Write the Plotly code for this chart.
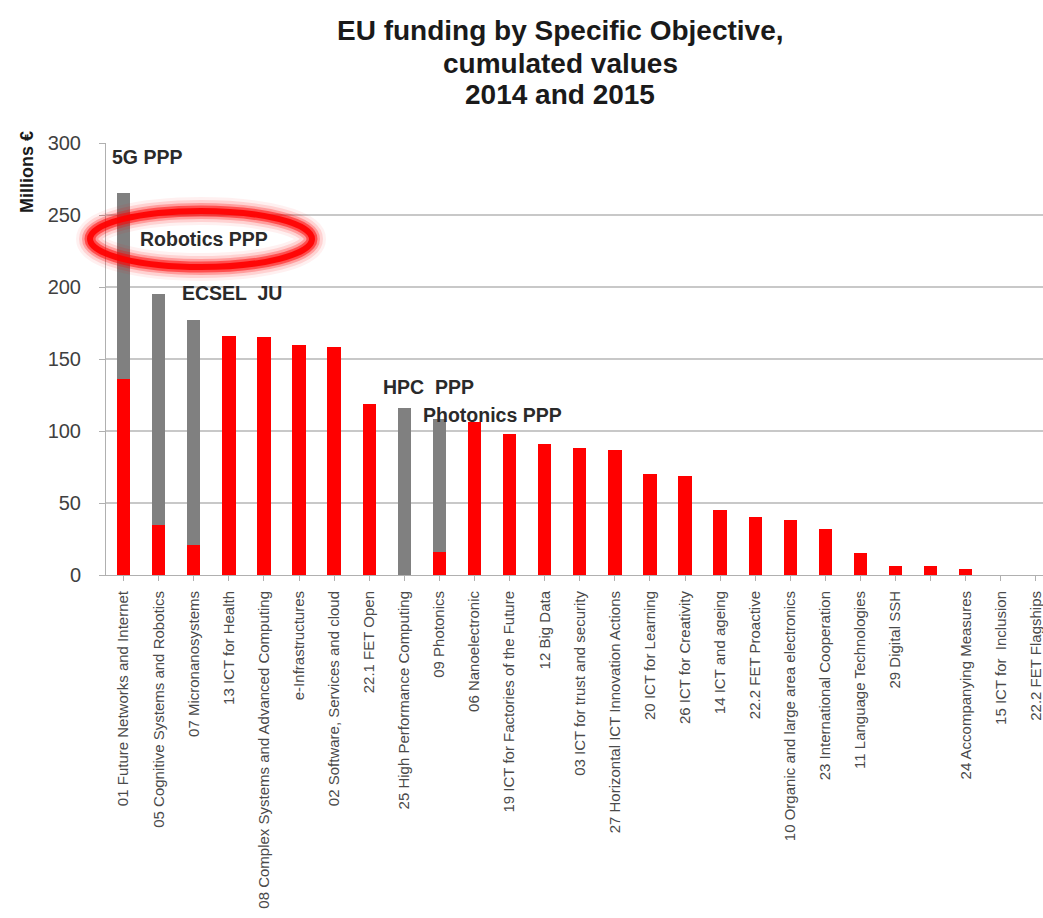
import plotly.graph_objects as go

categories = [
    "01 Future Networks and Internet",
    "05 Cognitive Systems and Robotics",
    "07 Micronanosystems",
    "13 ICT for Health",
    "08 Complex Systems and Advanced Computing",
    "e-Infrastructures",
    "02 Software, Services and cloud",
    "22.1 FET Open",
    "25 High Performance Computing",
    "09 Photonics",
    "06 Nanoelectronic",
    "19 ICT for Factories of the Future",
    "12 Big Data",
    "03 ICT for trust and security",
    "27 Horizontal ICT Innovation Actions",
    "20 ICT for Learning",
    "26 ICT for Creativity",
    "14 ICT and ageing",
    "22.2 FET Proactive",
    "10 Organic and large area electronics",
    "23 International Cooperation",
    "11 Language Technologies",
    "29 Digital SSH",
    " ",
    "24 Accompanying Measures",
    "15 ICT for  Inclusion",
    "22.2 FET Flagships",
]

# Red part (bottom of each bar), Millions €
red_values = [136, 35, 21, 166, 165, 160, 158, 119, 0, 16, 106, 98, 91, 88, 87,
              70, 69, 45, 40, 38, 32, 15, 6, 6, 4, 0, 0]
# Grey part (PPP / JU share, stacked on top)
grey_values = [129, 160, 156, 0, 0, 0, 0, 0, 116, 92, 0, 0, 0, 0, 0,
               0, 0, 0, 0, 0, 0, 0, 0, 0, 0, 0, 0]

y_ticks = [0, 50, 100, 150, 200, 250, 300]

title_lines = ["EU funding by Specific Objective,", "cumulated values", "2014 and 2015"]

# Labels placed over the bars: (text, category position, y value)
labels = [
    ("5G PPP", -0.4, 290),
    ("Robotics PPP", 0.4, 233),
    ("ECSEL  JU", 1.6, 196),
    ("HPC  PPP", 7.35, 130.5),
    ("Photonics PPP", 8.49, 111),
]

x_idx = list(range(len(categories)))

fig = go.Figure()
fig.add_trace(go.Bar(x=x_idx, y=red_values, marker=dict(color="#FF0000", line=dict(width=0)),
                     name="EU funding", showlegend=False))
fig.add_trace(go.Bar(x=x_idx, y=grey_values, marker=dict(color="#808080", line=dict(width=0)),
                     name="PPP / JU", showlegend=False))

fig.update_layout(
    barmode="stack",
    bargap=0.62,
    width=1043,
    height=918,
    margin=dict(l=106, r=0, t=143, b=343),
    paper_bgcolor="white",
    plot_bgcolor="white",
    font=dict(family="Liberation Sans, Arial, sans-serif", color="#333333"),
)

# Title lines (placed individually to match the tight line spacing)
for line, yc in zip(title_lines, [31, 63, 95]):
    fig.add_annotation(
        text="<b>" + line + "</b>", xref="paper", yref="paper",
        x=(560 - 106) / 937, y=(575 - yc) / 432,
        xanchor="center", yanchor="middle", showarrow=False,
        font=dict(size=28, color="#1a1a1a"),
    )

fig.update_xaxes(
    tickmode="array",
    tickvals=x_idx,
    ticktext=categories,
    tickangle=-90,
    range=[-0.5, 26.2],
    tickfont=dict(size=15, color="#4a4a4a"),
    ticks="outside",
    ticklen=5,
    tickcolor="#b0b0b0",
    ticklabelstandoff=4,
    ticklabeloverflow="allow",
    showline=True,
    linecolor="#b0b0b0",
    linewidth=1,
    showgrid=False,
    zeroline=False,
)

fig.update_yaxes(
    range=[0, 300],
    tickmode="array",
    tickvals=y_ticks,
    ticktext=[str(v) for v in y_ticks],
    tickfont=dict(size=20, color="#404040"),
    ticks="outside",
    ticklen=6,
    tickcolor="#b0b0b0",
    ticklabelstandoff=14,
    showline=True,
    linecolor="#b0b0b0",
    linewidth=1,
    showgrid=True,
    gridcolor="#c8c8c8",
    gridwidth=1.5,
    zeroline=False,
)

# Y axis title
fig.add_annotation(
    text="<b>Millions €</b>", textangle=-90,
    xref="paper", yref="paper", x=(27 - 106) / 937, y=(575 - 172) / 432,
    xanchor="center", yanchor="middle", showarrow=False,
    font=dict(size=18, color="#1a1a1a"),
)

# Glowing red ellipse around "Robotics PPP"
ex0, ex1 = (90 - 106) / 937, (312 - 106) / 937
ey0, ey1 = (575 - 267) / 432, (575 - 211) / 432
for w, col in [(28, "rgba(255,0,0,0.06)"), (22, "rgba(255,0,0,0.12)"),
               (16, "rgba(255,0,0,0.25)"), (11, "rgba(255,0,0,0.5)"),
               (6, "rgba(255,0,0,0.9)")]:
    fig.add_shape(type="circle", xref="paper", yref="paper",
                  x0=ex0, x1=ex1, y0=ey0, y1=ey1,
                  line=dict(color=col, width=w), fillcolor="rgba(0,0,0,0)", layer="above")

for text, xv, yv in labels:
    fig.add_annotation(
        text="<b>" + text + "</b>", x=xv, y=yv, xref="x", yref="y",
        xanchor="left", yanchor="middle", showarrow=False,
        font=dict(size=19.5, color="#2a2a2a"),
    )

fig.write_html("out.html")
